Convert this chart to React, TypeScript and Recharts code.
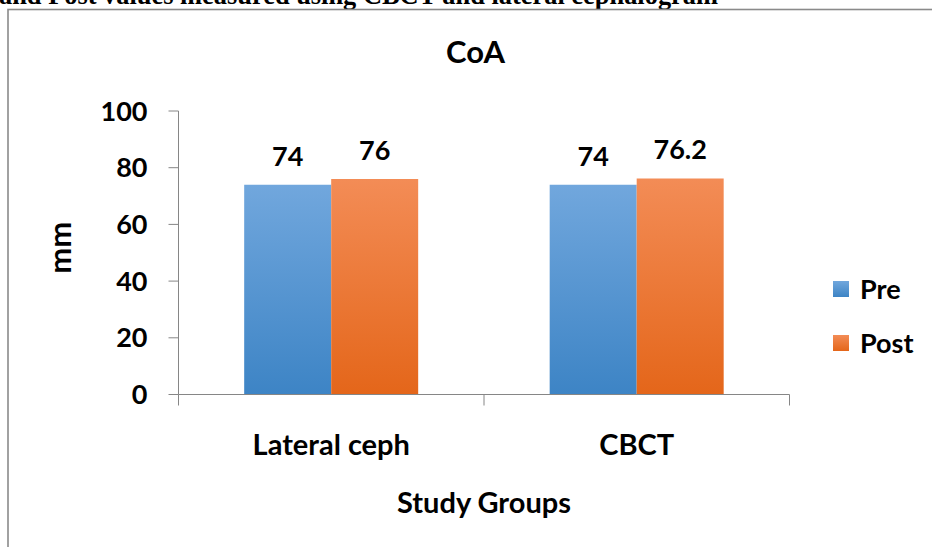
import { BarChart, Bar, XAxis, YAxis, Legend, LabelList } from 'recharts';

// Study groups and measured CoA values (mm)
const groups = ['Lateral ceph', 'CBCT'];
const preValues = [74, 74];
const postValues = [76, 76.2];
const yTicks = [0, 20, 40, 60, 80, 100];
const seriesOrder = ['Pre', 'Post'];

const AXIS_COLOR = '#868686';
const FONT = 'Lato, "Open Sans", sans-serif';

const data = groups.map((group, i) => ({
  group,
  Pre: preValues[i],
  Post: postValues[i],
}));

// Category tick: boundary tick marks between groups plus the group name
const GroupTick = (props: any) => {
  const { x, y, payload, index, visibleTicksCount, width } = props;
  const half = payload?.offset ?? width / (2 * visibleTicksCount);
  return (
    <g>
      <line x1={x - half} y1={y} x2={x - half} y2={y + 11} stroke={AXIS_COLOR} />
      {index === visibleTicksCount - 1 && (
        <line x1={x + half} y1={y} x2={x + half} y2={y + 11} stroke={AXIS_COLOR} />
      )}
      <text x={x} y={y + 60.5} textAnchor="middle" fontFamily={FONT} fontWeight="bold" fontSize={29} fill="#000">
        {payload.value}
      </text>
    </g>
  );
};

const renderMm = (props: any) => {
  const { viewBox } = props;
  const cx = viewBox.x + 71;
  const cy = viewBox.y + viewBox.height / 2 - 5;
  return (
    <text x={cx} y={cy} transform={`rotate(-90 ${cx} ${cy})`} textAnchor="middle" fontFamily={FONT} fontWeight="bold" fontSize={31} fill="#000">
      mm
    </text>
  );
};

const renderStudyGroups = (props: any) => {
  const { viewBox } = props;
  return (
    <text x={viewBox.x + viewBox.width / 2} y={viewBox.y + 118.5} textAnchor="middle" fontFamily={FONT} fontWeight="bold" fontSize={29} fill="#000">
      Study Groups
    </text>
  );
};

const renderLegend = (props: any) => {
  const items = [...props.payload].sort(
    (a: any, b: any) => seriesOrder.indexOf(a.value) - seriesOrder.indexOf(b.value)
  );
  return (
    <div style={{ fontFamily: FONT, fontWeight: 'bold', fontSize: 27 }}>
      {items.map((entry: any, i: number) => (
        <div key={entry.value} style={{ display: 'flex', alignItems: 'center', height: 16, marginTop: i === 0 ? 0 : 38 }}>
          <svg width={16} height={16} style={{ display: 'block' }}>
            <rect x={0} y={0} width={16} height={16} fill={entry.color} />
          </svg>
          <span style={{ marginLeft: 11, lineHeight: '16px', whiteSpace: 'nowrap' }}>{entry.value}</span>
        </div>
      ))}
    </div>
  );
};

export default function App() {
  return (
    <div style={{ position: 'absolute', left: 0, top: 0, width: 932, height: 547, overflow: 'hidden', background: '#fff' }}>
      <svg width={932} height={547} style={{ position: 'absolute', left: 0, top: 0 }}>
        <text x={-1} y={4} fontFamily='"Liberation Serif", "Times New Roman", serif' fontWeight="bold" fontSize={26.4} fill="#000">
          and Post values measured using CBCT and lateral cephalogram
        </text>
        <rect x={8} y={9.5} width={1000} height={1000} fill="none" stroke="#8a8a8a" strokeWidth={1.6} />
        <text x={475.5} y={62.5} textAnchor="middle" fontFamily={FONT} fontWeight="bold" fontSize={31} fill="#000">
          CoA
        </text>
      </svg>
      <div style={{ position: 'absolute', left: 0, top: 0 }}>
        <BarChart
          width={932}
          height={547}
          data={data}
          margin={{ top: 111, right: 142.5, bottom: 0, left: 0 }}
          barCategoryGap="21.5%"
          barGap={0}
        >
          <defs>
            <linearGradient id="gradPre" x1="0" y1="0" x2="0" y2="1">
              <stop offset="0%" stopColor="#71a7dd" />
              <stop offset="100%" stopColor="#3d84c5" />
            </linearGradient>
            <linearGradient id="gradPost" x1="0" y1="0" x2="0" y2="1">
              <stop offset="0%" stopColor="#f38c56" />
              <stop offset="100%" stopColor="#e4661a" />
            </linearGradient>
          </defs>
          <XAxis
            dataKey="group"
            height={152.5}
            stroke={AXIS_COLOR}
            tickLine={false}
            tickSize={0}
            tickMargin={0}
            tick={<GroupTick />}
            interval={0}
            label={renderStudyGroups}
          />
          <YAxis
            width={178.5}
            domain={[0, 100]}
            ticks={yTicks}
            stroke={AXIS_COLOR}
            tickSize={10}
            tickMargin={21}
            tick={{ fill: '#000', fontFamily: FONT, fontWeight: 'bold', fontSize: 27 }}
            label={renderMm}
          />
          <Legend
            layout="vertical"
            align="center"
            verticalAlign="middle"
            content={renderLegend}
            wrapperStyle={{ left: 833, top: 281, width: 'auto' }}
          />
          <Bar dataKey="Pre" fill="url(#gradPre)" isAnimationActive={false}>
            <LabelList dataKey="Pre" position="top" offset={19} fill="#000" fontFamily={FONT} fontWeight="bold" fontSize={27} />
          </Bar>
          <Bar dataKey="Post" fill="url(#gradPost)" isAnimationActive={false}>
            <LabelList dataKey="Post" position="top" offset={19} fill="#000" fontFamily={FONT} fontWeight="bold" fontSize={27} />
          </Bar>
        </BarChart>
      </div>
    </div>
  );
}
